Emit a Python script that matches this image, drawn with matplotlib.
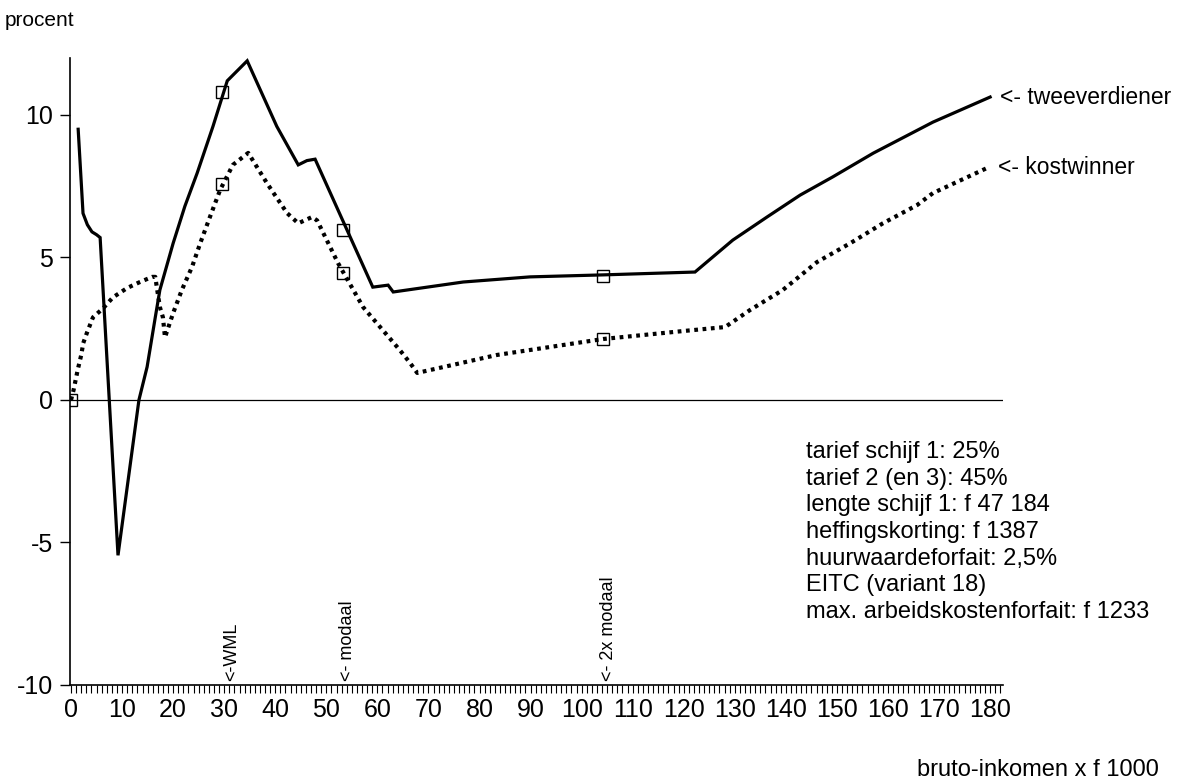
import matplotlib
matplotlib.use("Agg")
import matplotlib.pyplot as plt
from matplotlib.ticker import MultipleLocator

plt.rcParams['font.family'] = ['Liberation Sans', 'DejaVu Sans']

# ---- data ----
twee_x = [1.4, 2.35, 3.2, 4.1, 5.0, 5.7, 9.2, 13.3, 14.9, 16.5, 17.4, 20.0, 22.3, 24.7,
          27.8, 30.6, 34.5, 40.3, 44.5, 46.2, 47.8, 59.1, 62.1, 63.1, 76.8, 89.9,
          104.2, 122.2, 129.6, 136.3, 142.8, 149.2, 157.1, 168.8, 180.0]
twee_y = [9.5, 6.55, 6.15, 5.9, 5.8, 5.7, -5.45, 0.0, 1.16, 2.9, 3.86, 5.5, 6.8, 7.96,
          9.6, 11.2, 11.9, 9.6, 8.25, 8.4, 8.45, 3.96, 4.03, 3.79, 4.14, 4.32,
          4.39, 4.49, 5.61, 6.42, 7.19, 7.83, 8.66, 9.75, 10.63]

kost_x = [0.0, 0.5, 0.9, 1.3, 2.0, 2.4, 3.1, 4.3, 6.3, 8.2, 11.0, 13.5, 15.9, 16.5,
          16.8, 17.4, 18.0, 18.4, 20.0, 21.7, 23.7, 25.3, 27.2, 29.2, 31.7, 34.7,
          38.4, 42.3, 44.5, 47.2, 48.2, 52.3, 57.2, 64.4, 66.4, 67.8, 83.4, 96.4,
          104.2, 119.9, 128.1, 133.0, 139.4, 146.1, 152.6, 159.0, 165.7, 168.8, 179.4]
kost_y = [0.0, 0.35, 0.7, 1.05, 1.58, 2.0, 2.35, 2.9, 3.22, 3.6, 3.93, 4.14, 4.32, 4.32,
          3.96, 3.26, 2.9, 2.2, 3.05, 3.86, 4.67, 5.5, 6.42, 7.37, 8.25, 8.67,
          7.6, 6.56, 6.2, 6.42, 6.3, 4.8, 3.26, 1.75, 1.3, 0.95, 1.58, 1.93,
          2.14, 2.42, 2.56, 3.16, 3.86, 4.84, 5.5, 6.2, 6.84, 7.26, 8.14]

marker_x = [0.0, 29.6, 53.3, 104.2]
marker_twee = [None, 10.8, 5.96, 4.35]
marker_kost = [0.0, 7.58, 4.46, 2.15]

ref_labels = ['<-WML', '<- modaal', '<- 2x modaal']
ref_x = [31.5, 54.1, 105.2]

x_ticks = list(range(0, 181, 10))
y_ticks = [-10, -5, 0, 5, 10]

info_lines = ['tarief schijf 1: 25%',
              'tarief 2 (en 3): 45%',
              'lengte schijf 1: f 47 184',
              'heffingskorting: f 1387',
              'huurwaardeforfait: 2,5%',
              'EITC (variant 18)',
              'max. arbeidskostenforfait: f 1233']

# ---- figure ----
W, H = 1180, 779
fig = plt.figure(figsize=(W / 100, H / 100), dpi=100)
ax = fig.add_axes([70 / W, 1 - 685 / H, (1003.4 - 70) / W, (685 - 58) / H])
ax.set_xlim(-0.2, 182.6)
ax.set_ylim(-10, 12)

ax.plot(twee_x, twee_y, color='black', lw=2.3, solid_joinstyle='miter')
ax.plot(kost_x, kost_y, color='black', lw=3.0, linestyle=(0, (0.9, 1.1)),
        dash_capstyle='butt')

mx_t = [x for x, y in zip(marker_x, marker_twee) if y is not None]
my_t = [y for y in marker_twee if y is not None]
ax.plot(mx_t, my_t, linestyle='none', marker='s', ms=8.5, mfc='none',
        mec='black', mew=1.0)
ax.plot(marker_x, marker_kost, linestyle='none', marker='s', ms=8.5, mfc='none',
        mec='black', mew=1.0)

ax.axhline(0, color='black', lw=0.9)

for s in ['top', 'right']:
    ax.spines[s].set_visible(False)
for s in ['left', 'bottom']:
    ax.spines[s].set_linewidth(1.2)

ax.set_xticks(x_ticks)
ax.set_xticklabels([str(v) for v in x_ticks])
ax.xaxis.set_minor_locator(MultipleLocator(1))
ax.set_yticks(y_ticks)
ax.set_yticklabels([str(v) for v in y_ticks])
ax.tick_params(axis='x', which='both', direction='out', length=5.5, width=0.8,
               labelsize=18, pad=4)
ax.tick_params(axis='y', which='major', direction='out', length=7, width=1.0,
               labelsize=18, pad=5)

for lab, xv in zip(ref_labels, ref_x):
    ax.text(xv, -9.86, lab, rotation=90, ha='center', va='bottom', fontsize=13)

# right-hand line labels
fig.text(1000 / W, 1 - 97 / H, '<- tweeverdiener', ha='left', va='center', fontsize=16.5)
fig.text(998 / W, 1 - 167 / H, '<- kostwinner', ha='left', va='center', fontsize=16.5)

# info block
for i, line in enumerate(info_lines):
    fig.text(806 / W, 1 - (452 + i * 26.7) / H, line, ha='left', va='center',
             fontsize=17)

fig.text(5 / W, 1 - 20 / H, 'procent', ha='left', va='center', fontsize=15)
fig.text(917 / W, 1 - 770 / H, 'bruto-inkomen x f 1000', ha='left', va='center',
         fontsize=17)

fig.savefig('out.png', dpi=100)
